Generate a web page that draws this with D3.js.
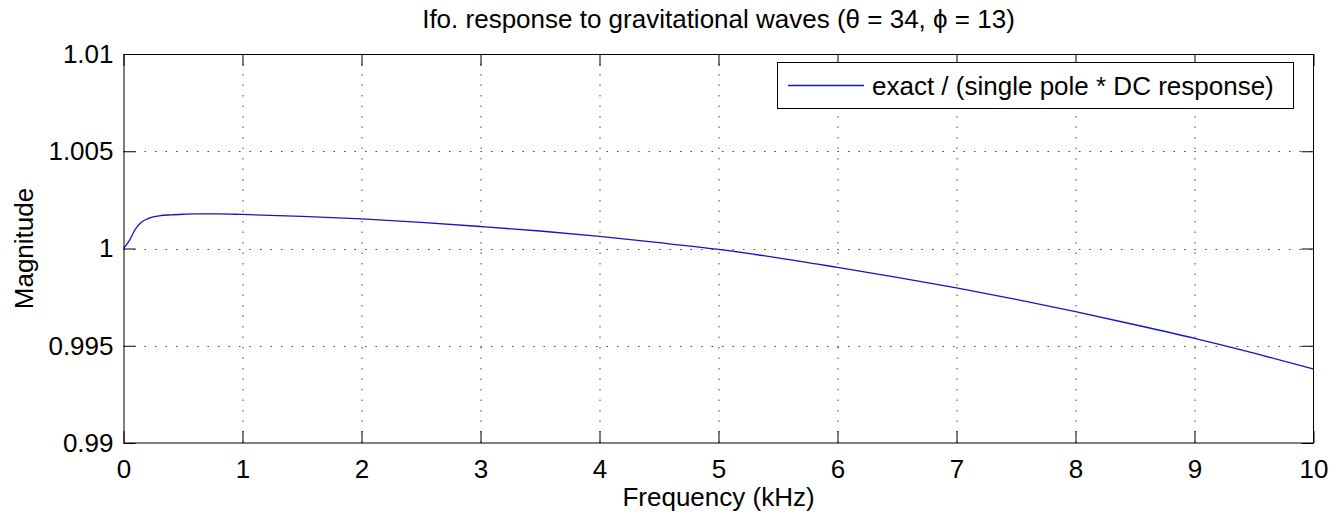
<!DOCTYPE html>
<html>
<head>
<meta charset="utf-8">
<script src="https://cdn.jsdelivr.net/npm/d3@7"></script>
<style>
  body { margin: 0; background: #fff; }
  svg { display: block; font-family: "Liberation Sans", Arial, Helvetica, sans-serif; }
</style>
</head>
<body>
<div id="chart"></div>
<script>
// Data
var freq = [0, 0.05, 0.1, 0.15, 0.2, 0.25, 0.3, 0.4, 0.5, 0.6, 0.8, 1.0, 1.5, 2.0, 2.5, 3.0,
            3.5, 4.0, 4.5, 5.0, 5.5, 6.0, 6.5, 7.0, 7.5, 8.0, 8.5, 9.0, 9.5, 10.0];
var magnitude = [1.00000, 1.00042, 1.00100, 1.00135, 1.00152, 1.00162, 1.00168, 1.00173, 1.00176, 1.00178,
                 1.00178, 1.00175, 1.00165, 1.00152, 1.00134, 1.00113, 1.00090, 1.00062, 1.00030, 0.99995,
                 0.99952, 0.99903, 0.99852, 0.99797, 0.99738, 0.99675, 0.99608, 0.99538, 0.99462, 0.99380];
var xTicks = [0, 1, 2, 3, 4, 5, 6, 7, 8, 9, 10];
var yTicks = [0.99, 0.995, 1, 1.005, 1.01];
var yTickLabels = ["0.99", "0.995", "1", "1.005", "1.01"];
var seriesName = "exact / (single pole * DC response)";

// Size and margins
var width = 1333,
    height = 515,
    margin = { top: 54, right: 19.5, bottom: 72, left: 123.5 };
var innerW = width - margin.left - margin.right,
    innerH = height - margin.top - margin.bottom;
var fontSize = "26px";

var svg = d3.select("#chart")
    .append("svg")
    .attr("width", width)
    .attr("height", height);

var g = svg.append("g")
    .attr("transform", "translate(" + margin.left + "," + margin.top + ")");

// Scales
var x = d3.scaleLinear().domain([0, 10]).range([0, innerW]);
var y = d3.scaleLinear().domain([0.99, 1.01]).range([innerH, 0]);

// Dotted grid
var grid = g.append("g")
    .attr("stroke", "#444")
    .attr("stroke-width", 1)
    .attr("stroke-dasharray", "1.5,9");

grid.selectAll("line.vx")
    .data(xTicks.slice(1, -1))
    .enter()
    .append("line")
    .attr("x1", d => Math.round(x(d)) + 0.5)
    .attr("x2", d => Math.round(x(d)) + 0.5)
    .attr("y1", innerH)
    .attr("y2", 0);

grid.selectAll("line.hy")
    .data(yTicks.slice(1, -1))
    .enter()
    .append("line")
    .attr("x1", 0)
    .attr("x2", innerW)
    .attr("y1", d => Math.round(y(d)) + 0.5)
    .attr("y2", d => Math.round(y(d)) + 0.5);

// Axes with inward ticks
var tickLen = 12;
var bottomAxis = d3.axisBottom(x).tickValues(xTicks).tickSize(-tickLen).tickPadding(17).tickFormat(d3.format("d"));
var topAxis = d3.axisTop(x).tickValues(xTicks).tickSize(-tickLen).tickFormat("");
var leftAxis = d3.axisLeft(y).tickValues(yTicks).tickSize(-tickLen).tickPadding(10)
    .tickFormat((d, i) => yTickLabels[i]);
var rightAxis = d3.axisRight(y).tickValues(yTicks).tickSize(-tickLen).tickFormat("");

function styleAxis(sel) {
    sel.select(".domain").remove();
    sel.selectAll(".tick line").attr("stroke", "#000");
    sel.selectAll("text")
        .attr("fill", "#000")
        .style("font-size", fontSize)
        .style("font-family", "\"Liberation Sans\", Arial, Helvetica, sans-serif");
}

g.append("g").attr("transform", "translate(0," + innerH + ")").call(bottomAxis).call(styleAxis);
g.append("g").call(topAxis).call(styleAxis);
g.append("g").call(leftAxis).call(styleAxis);
g.append("g").attr("transform", "translate(" + innerW + ",0)").call(rightAxis).call(styleAxis);

// Box
g.append("rect")
    .attr("x", 0.5)
    .attr("y", 0.5)
    .attr("width", innerW - 0.5)
    .attr("height", innerH - 0.5)
    .attr("fill", "none")
    .attr("stroke", "#000")
    .attr("stroke-width", 1);

// The curve
var line = d3.line()
    .x((d, i) => x(freq[i]))
    .y(d => y(d))
    .curve(d3.curveMonotoneX);

g.append("path")
    .datum(magnitude)
    .attr("fill", "none")
    .attr("stroke", "#1414c8")
    .attr("stroke-width", 1.3)
    .attr("d", line);

// Legend
var legend = svg.append("g");
legend.append("rect")
    .attr("x", 777.5)
    .attr("y", 62.5)
    .attr("width", 516)
    .attr("height", 46)
    .attr("fill", "#fff")
    .attr("stroke", "#000")
    .attr("stroke-width", 1);
legend.append("line")
    .attr("x1", 788)
    .attr("x2", 864)
    .attr("y1", 85.5)
    .attr("y2", 85.5)
    .attr("stroke", "#1414c8")
    .attr("stroke-width", 1.3);
legend.append("text")
    .attr("x", 872)
    .attr("y", 95)
    .style("font-size", fontSize)
    .text(seriesName);

// Title and axis labels
svg.append("text")
    .attr("x", margin.left + innerW / 2)
    .attr("y", 28)
    .attr("text-anchor", "middle")
    .style("font-size", fontSize)
    .text("Ifo. response to gravitational waves (\u03B8 = 34, \u03D5 = 13)");

svg.append("text")
    .attr("x", margin.left + innerW / 2)
    .attr("y", 506)
    .attr("text-anchor", "middle")
    .style("font-size", fontSize)
    .text("Frequency (kHz)");

svg.append("text")
    .attr("transform", "translate(33," + (margin.top + innerH / 2) + ")rotate(-90)")
    .attr("text-anchor", "middle")
    .style("font-size", fontSize)
    .text("Magnitude");
</script>
</body>
</html>
